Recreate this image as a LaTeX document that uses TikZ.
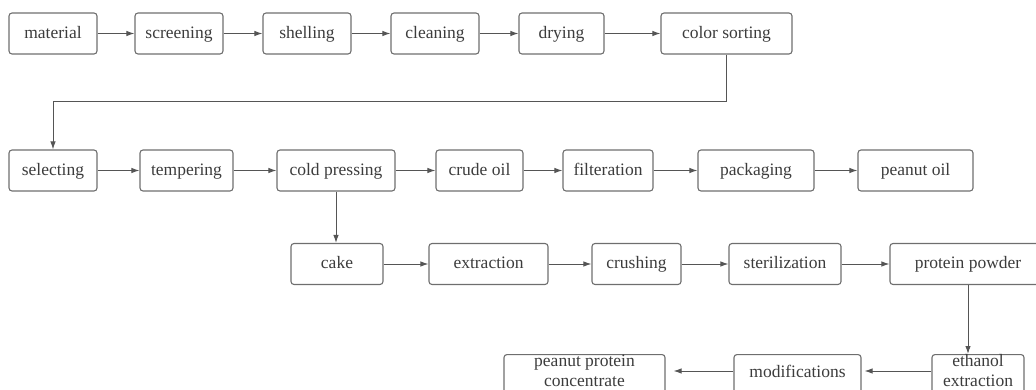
\documentclass[tikz,border=0pt]{standalone}
\usepackage{fontspec}
\setmainfont{Liberation Serif}
\usetikzlibrary{arrows.meta}
\definecolor{boxline}{HTML}{6E6E6E}
\definecolor{txt}{HTML}{3C3C3C}
\definecolor{conn}{HTML}{555555}
\tikzset{
  proc/.style={draw=boxline, line width=1.1pt, rounded corners=3pt, inner sep=0pt,
    minimum height=41pt, text height=12pt, text depth=2pt, text=txt,
    font=\fontsize{17.5}{20}\selectfont, align=center},
  low/.style={anchor=north, minimum height=0pt, text height=32pt, text depth=14pt},
  lowone/.style={anchor=north, minimum height=0pt, text height=23pt, text depth=23pt},
  flow/.style={draw=conn, line width=1pt, -{Latex[length=8pt,width=5.5pt]}},
}
\begin{document}
\begin{tikzpicture}[x=1pt,y=-1pt]
\useasboundingbox (0,0) rectangle (1036,390);
\clip (0,0) rectangle (1036,390);
% row 1
\node[proc, minimum width=88pt]  (material)  at (53,33.5)    {material};
\node[proc, minimum width=88pt]  (screening) at (179,33.5)   {screening};
\node[proc, minimum width=88pt]  (shelling)  at (307,33.5)   {shelling};
\node[proc, minimum width=88pt]  (cleaning)  at (435,33.5)   {cleaning};
\node[proc, minimum width=85pt]  (drying)    at (561.5,33.5) {drying};
\node[proc, minimum width=131pt] (colsort)   at (726.5,33.5) {color sorting};
% row 2
\node[proc, minimum width=88pt]  (selecting) at (53,170.5)   {selecting};
\node[proc, minimum width=93pt]  (tempering) at (186.5,170.5){tempering};
\node[proc, minimum width=118pt] (coldp)     at (336,170.5)  {cold pressing};
\node[proc, minimum width=87pt]  (crude)     at (479.5,170.5){crude oil};
\node[proc, minimum width=90pt]  (filter)    at (608,170.5)  {filteration};
\node[proc, minimum width=116pt] (pack)      at (756,170.5)  {packaging};
\node[proc, minimum width=115pt] (poil)      at (915.5,170.5){peanut oil};
% row 3
\node[proc, minimum width=92pt]  (cake)      at (337,264)    {cake};
\node[proc, minimum width=119pt] (extract)   at (488.5,264)  {extraction};
\node[proc, minimum width=89pt]  (crush)     at (636.5,264)  {crushing};
\node[proc, minimum width=112pt] (steril)    at (785,264)    {sterilization};
\node[proc, minimum width=156pt] (ppowder)   at (968,264)    {protein powder};
% row 4
\node[proc, low, minimum width=92pt]     (ethanol) at (978,354)   {ethanol\\extraction};
\node[proc, lowone, minimum width=127pt] (modif)   at (797.5,354) {modifications};
\node[proc, low, minimum width=161pt]    (ppc)     at (584.5,354) {peanut protein\\concentrate};
% helper coordinates
\coordinate (turn) at (0,101.7);
\coordinate (row4) at (0,371);
% connectors
\draw[flow] (material) -- (screening);
\draw[flow] (screening) -- (shelling);
\draw[flow] (shelling) -- (cleaning);
\draw[flow] (cleaning) -- (drying);
\draw[flow] (drying) -- (colsort);
\draw[flow] (colsort.south) -- (colsort.south |- turn) -- (selecting.north |- turn) -- (selecting.north);
\draw[flow] (selecting) -- (tempering);
\draw[flow] (tempering) -- (coldp);
\draw[flow] (coldp) -- (crude);
\draw[flow] (crude) -- (filter);
\draw[flow] (filter) -- (pack);
\draw[flow] (pack) -- (poil);
\draw[flow] (coldp.south) -- (coldp.south |- cake.north);
\draw[flow] (cake) -- (extract);
\draw[flow] (extract) -- (crush);
\draw[flow] (crush) -- (steril);
\draw[flow] (steril) -- (ppowder);
\draw[flow] (ppowder.south) -- (ppowder.south |- ethanol.north);
\draw[flow, shorten >=3pt] (ethanol.west |- row4) -- (modif.east |- row4);
\draw[flow, shorten >=8pt] (modif.west |- row4) -- (ppc.east |- row4);
\end{tikzpicture}
\end{document}
